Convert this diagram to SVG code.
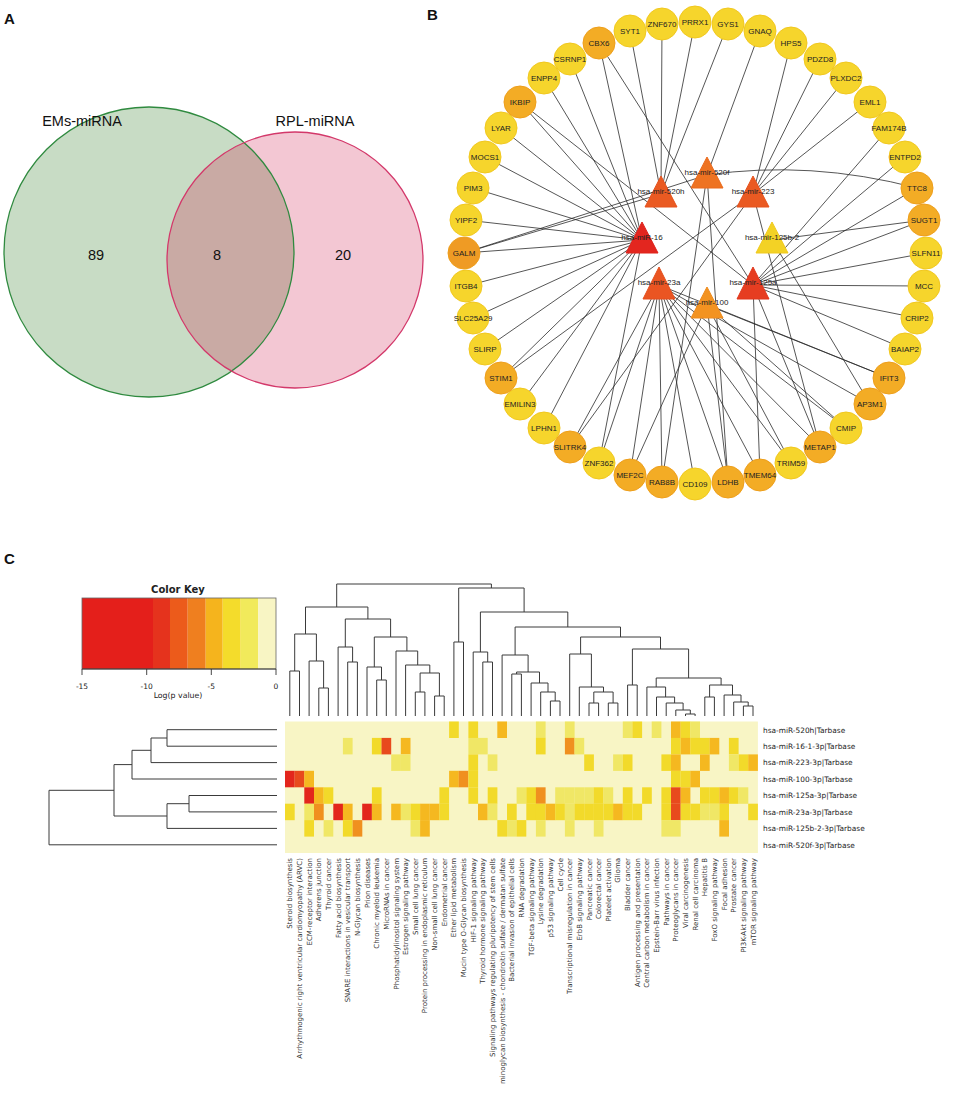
<svg xmlns="http://www.w3.org/2000/svg" width="957" height="1106" viewBox="0 0 957 1106">
<style>
.pl{font-family:"Liberation Sans",Arial,sans-serif;font-weight:bold;font-size:15px;fill:#111}
.vt{font-family:"Liberation Sans",Arial,sans-serif;font-size:14.5px;fill:#111;text-anchor:middle}
.edge{stroke:#2b2b2b;stroke-width:0.8;fill:none}
.gy{fill:#f6d52c;stroke:#f1c81f;stroke-width:1}
.go{fill:#f3ac25;stroke:#ee9f1c;stroke-width:1}
.nt{font-family:"Liberation Sans",Arial,sans-serif;font-size:8px;fill:#222;text-anchor:middle}
.mt{font-family:"Liberation Sans",Arial,sans-serif;font-size:8px;fill:#222;text-anchor:middle}
.dend{stroke:#3a3a3a;stroke-width:1;fill:none}
.hm{font-family:"DejaVu Sans",Verdana,sans-serif;fill:#222}
.cl{font-family:"DejaVu Sans",Verdana,sans-serif;font-size:7px;fill:#333;text-anchor:end}
.rl{font-family:"DejaVu Sans",Verdana,sans-serif;font-size:7.4px;fill:#222}
.R{fill:#e3261c}.OR{fill:#e84a1d}.O{fill:#f0901f}.A{fill:#f5b820}.Y{fill:#f2da2a}.P{fill:#f0e766}
</style>
<defs>
<clipPath id="gclip"><circle cx="149" cy="252" r="145"/></clipPath>
</defs>
<rect width="957" height="1106" fill="#fff"/>

<!-- Panel A -->
<text class="pl" x="4" y="24">A</text>
<g id="venn">
<circle cx="149" cy="252" r="145" fill="#c8dcc5"/>
<circle cx="295" cy="260" r="128" fill="#f3c7d3"/>
<circle cx="295" cy="260" r="128" fill="#c9aaa4" clip-path="url(#gclip)"/>
<circle cx="149" cy="252" r="145" fill="none" stroke="#2f8a3f" stroke-width="1.3"/>
<circle cx="295" cy="260" r="128" fill="none" stroke="#d3386a" stroke-width="1.3"/>
<text class="vt" x="82" y="126">EMs-miRNA</text>
<text class="vt" x="315" y="126">RPL-miRNA</text>
<text class="vt" x="96" y="260">89</text>
<text class="vt" x="217" y="260">8</text>
<text class="vt" x="343" y="260">20</text>
</g>

<!-- Panel B -->
<text class="pl" x="427" y="20">B</text>
<g id="connectors">
<line class="edge" x1="630" y1="31" x2="661" y2="194"/>
<line class="edge" x1="662" y1="24" x2="661" y2="194"/>
<line class="edge" x1="695" y1="22" x2="661" y2="194"/>
<line class="edge" x1="728" y1="24" x2="661" y2="194"/>
<line class="edge" x1="464" y1="253" x2="661" y2="194"/>
<line class="edge" x1="760" y1="31" x2="707" y2="175"/>
<line class="edge" x1="464" y1="253" x2="707" y2="175"/>
<line class="edge" x1="662" y1="482" x2="707" y2="175"/>
<line class="edge" x1="728" y1="482" x2="707" y2="175"/>
<path class="edge" d="M917,188 Q810,160 707,175"/>
<line class="edge" x1="791" y1="43" x2="753" y2="194"/>
<line class="edge" x1="820" y1="59" x2="753" y2="194"/>
<line class="edge" x1="846" y1="78" x2="753" y2="194"/>
<line class="edge" x1="870" y1="102" x2="753" y2="194"/>
<line class="edge" x1="501" y1="378" x2="753" y2="194"/>
<line class="edge" x1="570" y1="447" x2="753" y2="194"/>
<line class="edge" x1="820" y1="447" x2="753" y2="194"/>
<line class="edge" x1="599" y1="43" x2="642" y2="240"/>
<line class="edge" x1="570" y1="59" x2="642" y2="240"/>
<line class="edge" x1="544" y1="78" x2="642" y2="240"/>
<line class="edge" x1="520" y1="102" x2="642" y2="240"/>
<line class="edge" x1="501" y1="128" x2="642" y2="240"/>
<line class="edge" x1="485" y1="157" x2="642" y2="240"/>
<line class="edge" x1="473" y1="188" x2="642" y2="240"/>
<line class="edge" x1="466" y1="220" x2="642" y2="240"/>
<line class="edge" x1="464" y1="253" x2="642" y2="240"/>
<line class="edge" x1="466" y1="286" x2="642" y2="240"/>
<line class="edge" x1="473" y1="318" x2="642" y2="240"/>
<line class="edge" x1="485" y1="349" x2="642" y2="240"/>
<line class="edge" x1="501" y1="378" x2="642" y2="240"/>
<line class="edge" x1="520" y1="404" x2="642" y2="240"/>
<line class="edge" x1="544" y1="428" x2="642" y2="240"/>
<line class="edge" x1="599" y1="463" x2="642" y2="240"/>
<line class="edge" x1="924" y1="220" x2="772" y2="240"/>
<line class="edge" x1="870" y1="404" x2="772" y2="240"/>
<line class="edge" x1="599" y1="43" x2="753" y2="285"/>
<line class="edge" x1="520" y1="102" x2="753" y2="285"/>
<line class="edge" x1="889" y1="128" x2="753" y2="285"/>
<line class="edge" x1="905" y1="157" x2="753" y2="285"/>
<line class="edge" x1="917" y1="188" x2="753" y2="285"/>
<line class="edge" x1="924" y1="220" x2="753" y2="285"/>
<line class="edge" x1="926" y1="253" x2="753" y2="285"/>
<line class="edge" x1="924" y1="286" x2="753" y2="285"/>
<line class="edge" x1="917" y1="318" x2="753" y2="285"/>
<line class="edge" x1="905" y1="349" x2="753" y2="285"/>
<line class="edge" x1="760" y1="475" x2="753" y2="285"/>
<line class="edge" x1="820" y1="447" x2="753" y2="285"/>
<line class="edge" x1="570" y1="447" x2="659" y2="285"/>
<line class="edge" x1="599" y1="463" x2="659" y2="285"/>
<line class="edge" x1="630" y1="475" x2="659" y2="285"/>
<line class="edge" x1="662" y1="482" x2="659" y2="285"/>
<line class="edge" x1="695" y1="484" x2="659" y2="285"/>
<line class="edge" x1="728" y1="482" x2="659" y2="285"/>
<line class="edge" x1="760" y1="475" x2="659" y2="285"/>
<line class="edge" x1="791" y1="463" x2="659" y2="285"/>
<line class="edge" x1="820" y1="447" x2="659" y2="285"/>
<line class="edge" x1="846" y1="428" x2="659" y2="285"/>
<line class="edge" x1="870" y1="404" x2="659" y2="285"/>
<line class="edge" x1="889" y1="378" x2="659" y2="285"/>
<line class="edge" x1="630" y1="475" x2="707" y2="305"/>
<line class="edge" x1="728" y1="482" x2="707" y2="305"/>
<line class="edge" x1="791" y1="463" x2="707" y2="305"/>
<line class="edge" x1="846" y1="428" x2="707" y2="305"/>
<line class="edge" x1="889" y1="378" x2="707" y2="305"/>
</g>

<g id="genes">
<g id="n-SLFN11"><circle class="gy" cx="926" cy="253" r="16"/><text class="nt" x="926" y="256">SLFN11</text></g>
<g id="n-MCC"><circle class="gy" cx="924" cy="286" r="16"/><text class="nt" x="924" y="289">MCC</text></g>
<g id="n-CRIP2"><circle class="gy" cx="917" cy="318" r="16"/><text class="nt" x="917" y="321">CRIP2</text></g>
<g id="n-BAIAP2"><circle class="gy" cx="905" cy="349" r="16"/><text class="nt" x="905" y="352">BAIAP2</text></g>
<g id="n-IFIT3"><circle class="go" cx="889" cy="378" r="16"/><text class="nt" x="889" y="381">IFIT3</text></g>
<g id="n-AP3M1"><circle class="go" cx="870" cy="404" r="16"/><text class="nt" x="870" y="407">AP3M1</text></g>
<g id="n-CMIP"><circle class="gy" cx="846" cy="428" r="16"/><text class="nt" x="846" y="431">CMIP</text></g>
<g id="n-METAP1"><circle class="go" cx="820" cy="447" r="16"/><text class="nt" x="820" y="450">METAP1</text></g>
<g id="n-TRIM59"><circle class="gy" cx="791" cy="463" r="16"/><text class="nt" x="791" y="466">TRIM59</text></g>
<g id="n-TMEM64"><circle class="go" cx="760" cy="475" r="16"/><text class="nt" x="760" y="478">TMEM64</text></g>
<g id="n-LDHB"><circle class="go" cx="728" cy="482" r="16"/><text class="nt" x="728" y="485">LDHB</text></g>
<g id="n-CD109"><circle class="gy" cx="695" cy="484" r="16"/><text class="nt" x="695" y="487">CD109</text></g>
<g id="n-RAB8B"><circle class="go" cx="662" cy="482" r="16"/><text class="nt" x="662" y="485">RAB8B</text></g>
<g id="n-MEF2C"><circle class="go" cx="630" cy="475" r="16"/><text class="nt" x="630" y="478">MEF2C</text></g>
<g id="n-ZNF362"><circle class="gy" cx="599" cy="463" r="16"/><text class="nt" x="599" y="466">ZNF362</text></g>
<g id="n-SLITRK4"><circle class="go" cx="570" cy="447" r="16"/><text class="nt" x="570" y="450">SLITRK4</text></g>
<g id="n-LPHN1"><circle class="gy" cx="544" cy="428" r="16"/><text class="nt" x="544" y="431">LPHN1</text></g>
<g id="n-EMILIN3"><circle class="gy" cx="520" cy="404" r="16"/><text class="nt" x="520" y="407">EMILIN3</text></g>
<g id="n-STIM1"><circle class="go" cx="501" cy="378" r="16"/><text class="nt" x="501" y="381">STIM1</text></g>
<g id="n-SLIRP"><circle class="gy" cx="485" cy="349" r="16"/><text class="nt" x="485" y="352">SLIRP</text></g>
<g id="n-SLC25A29"><circle class="gy" cx="473" cy="318" r="16"/><text class="nt" x="473" y="321">SLC25A29</text></g>
<g id="n-ITGB4"><circle class="gy" cx="466" cy="286" r="16"/><text class="nt" x="466" y="289">ITGB4</text></g>
<g id="n-GALM"><circle class="go" cx="464" cy="253" r="16" style="fill:#ef9b24"/><text class="nt" x="464" y="256">GALM</text></g>
<g id="n-YIPF2"><circle class="gy" cx="466" cy="220" r="16"/><text class="nt" x="466" y="223">YIPF2</text></g>
<g id="n-PIM3"><circle class="gy" cx="473" cy="188" r="16"/><text class="nt" x="473" y="191">PIM3</text></g>
<g id="n-MOCS1"><circle class="gy" cx="485" cy="157" r="16"/><text class="nt" x="485" y="160">MOCS1</text></g>
<g id="n-LYAR"><circle class="gy" cx="501" cy="128" r="16"/><text class="nt" x="501" y="131">LYAR</text></g>
<g id="n-IKBIP"><circle class="go" cx="520" cy="102" r="16"/><text class="nt" x="520" y="105">IKBIP</text></g>
<g id="n-ENPP4"><circle class="gy" cx="544" cy="78" r="16"/><text class="nt" x="544" y="81">ENPP4</text></g>
<g id="n-CSRNP1"><circle class="gy" cx="570" cy="59" r="16"/><text class="nt" x="570" y="62">CSRNP1</text></g>
<g id="n-CBX6"><circle class="go" cx="599" cy="43" r="16"/><text class="nt" x="599" y="46">CBX6</text></g>
<g id="n-SYT1"><circle class="gy" cx="630" cy="31" r="16"/><text class="nt" x="630" y="34">SYT1</text></g>
<g id="n-ZNF670"><circle class="gy" cx="662" cy="24" r="16"/><text class="nt" x="662" y="27">ZNF670</text></g>
<g id="n-PRRX1"><circle class="gy" cx="695" cy="22" r="16"/><text class="nt" x="695" y="25">PRRX1</text></g>
<g id="n-GYS1"><circle class="gy" cx="728" cy="24" r="16"/><text class="nt" x="728" y="27">GYS1</text></g>
<g id="n-GNAQ"><circle class="gy" cx="760" cy="31" r="16"/><text class="nt" x="760" y="34">GNAQ</text></g>
<g id="n-HPS5"><circle class="gy" cx="791" cy="43" r="16"/><text class="nt" x="791" y="46">HPS5</text></g>
<g id="n-PDZD8"><circle class="gy" cx="820" cy="59" r="16"/><text class="nt" x="820" y="62">PDZD8</text></g>
<g id="n-PLXDC2"><circle class="gy" cx="846" cy="78" r="16"/><text class="nt" x="846" y="81">PLXDC2</text></g>
<g id="n-EML1"><circle class="gy" cx="870" cy="102" r="16"/><text class="nt" x="870" y="105">EML1</text></g>
<g id="n-FAM174B"><circle class="gy" cx="889" cy="128" r="16"/><text class="nt" x="889" y="131">FAM174B</text></g>
<g id="n-ENTPD2"><circle class="gy" cx="905" cy="157" r="16"/><text class="nt" x="905" y="160">ENTPD2</text></g>
<g id="n-TTC8"><circle class="go" cx="917" cy="188" r="16"/><text class="nt" x="917" y="191">TTC8</text></g>
<g id="n-SUGT1"><circle class="go" cx="924" cy="220" r="16"/><text class="nt" x="924" y="223">SUGT1</text></g>
</g>

<g id="mirnas">
<g id="m-520f"><polygon points="707,157 691,188 723,188" fill="#ee7322" stroke="#ea6a1d"/><text class="mt" x="707" y="175">hsa-mir-520f</text></g>
<g id="m-520h"><polygon points="661,176 645,207 677,207" fill="#ea5a22" stroke="#e6521d"/><text class="mt" x="661" y="194">hsa-mir-520h</text></g>
<g id="m-223"><polygon points="753,176 737,207 769,207" fill="#ea5a22" stroke="#e6521d"/><text class="mt" x="753" y="194">hsa-mir-223</text></g>
<g id="m-16"><polygon points="642,222 626,253 658,253" fill="#e3261f" stroke="#de221b"/><text class="mt" x="642" y="240">hsa-miR-16</text></g>
<g id="m-125b2"><polygon points="772,222 756,253 788,253" fill="#f3d225" stroke="#efc91e"/><text class="mt" x="772" y="240">hsa-mir-125b-2</text></g>
<g id="m-23a"><polygon points="659,267 643,299 675,299" fill="#ea5522" stroke="#e54f1d"/><text class="mt" x="659" y="285">hsa-mir-23a</text></g>
<g id="m-125a"><polygon points="753,267 737,299 769,299" fill="#e63d21" stroke="#e0371c"/><text class="mt" x="753" y="285">hsa-mir-125a</text></g>
<g id="m-100"><polygon points="707,287 691,318 723,318" fill="#f39321" stroke="#ee8a1c"/><text class="mt" x="707" y="305">hsa-mir-100</text></g>
</g>

<!-- Panel C -->
<text class="pl" x="4" y="564">C</text>
<g id="colorkey">
<text class="hm" x="178" y="593" font-size="10" font-weight="bold" text-anchor="middle">Color Key</text>
<rect x="82" y="598" width="71" height="71" fill="#e41f1b"/>
<rect x="153" y="598" width="17" height="71" fill="#e5331d"/>
<rect x="170" y="598" width="17.7" height="71" fill="#ec5b1b"/>
<rect x="187.7" y="598" width="18" height="71" fill="#ef7f1f"/>
<rect x="205.7" y="598" width="17" height="71" fill="#f5b41d"/>
<rect x="222.7" y="598" width="18" height="71" fill="#f4dc2b"/>
<rect x="240.7" y="598" width="17.6" height="71" fill="#f1ea5b"/>
<rect x="258.3" y="598" width="17.7" height="71" fill="#f8f5c4"/>
<rect x="82" y="598" width="194" height="71" fill="none" stroke="#666" stroke-width="0.8"/>
<path d="M82 669H276M82 669V675M146.7 669V675M211.3 669V675M276 669V675" stroke="#333" stroke-width="0.9" fill="none"/>
<text class="hm" font-size="7.5" text-anchor="middle" x="82" y="689">-15</text>
<text class="hm" font-size="7.5" text-anchor="middle" x="146.7" y="689">-10</text>
<text class="hm" font-size="7.5" text-anchor="middle" x="211.3" y="689">-5</text>
<text class="hm" font-size="7.5" text-anchor="middle" x="276" y="689">0</text>
<text class="hm" font-size="7.8" text-anchor="middle" x="178" y="698">Log(p value)</text>
</g>

<g id="coldend">
<path class="dend" d="M289.8 716V671H299.5V716M318.8 716V688H328.4V716M309.1 716V661H323.6V688M294.7 671V634H316.4V661M347.7 716V662H357.4V716M338.1 716V647H352.6V662M376.7 716V680H386.3V716M367 716V667H381.5V680M415.3 716V692H424.9V716M434.6 716V696H444.2V716M420.1 692V673H439.4V696M405.6 716V665H429.8V673M396 716V651H417.7V665M374.3 667V637H406.9V651M345.3 647V619H390.6V637M305.5 634V607H367.9V619M453.9 716V642H463.5V716M482.8 716V662H492.5V716M473.2 716V652H487.7V662M550.4 716V701H560V716M540.7 716V692H555.2V701M531.1 716V683H548V692M511.8 716V674H521.4V716M516.6 674V672H539.5V683M502.1 716V655H528.1V672M589 716V703H598.6V716M608.3 716V703H617.9V716M593.8 703V692H613.1V703M579.3 716V687H603.5V692M569.7 716V654H591.4V687M627.6 716V685H637.2V716M685.5 716V714H695.1V716M675.8 716V710H690.3V714M666.2 716V703H683.1V710M656.5 716V697H674.6V703M646.9 716V687H665.6V697M704.8 716V697H714.4V716M743.4 716V706H753V716M733.7 716V702H748.2V706M724.1 716V695H741V702M709.6 697V685H732.5V695M656.2 687V678H721.1V685M632.4 685V649H688.6V678M580.6 654V637H660.5V649M515.1 655V627H620.5V637M480.4 652V612H567.8V627M458.7 642V588H524.1V612M336.7 607V584H491.4V588"/>
</g>
<g id="rowdend">
<path class="dend" d="M277 729.7H167V746.2H277M167 738H151V762.6H277M151 750.3H132V779H277M277 795.5H189V811.9H277M189 803.7H167V828.4H277M132 764.6H114V816H167M114 790.3H49V844.8H277"/>
</g>

<g id="heatmap">
<rect x="285" y="721.5" width="472.9" height="131.5" fill="#f8f5c5"/>
<g>
<rect class="Y" x="449.1" y="721.5" width="9.7" height="16.5"/>
<rect class="Y" x="468.4" y="721.5" width="9.7" height="16.5"/>
<rect class="A" x="497.3" y="721.5" width="9.7" height="16.5"/>
<rect class="P" x="535.9" y="721.5" width="9.7" height="16.5"/>
<rect class="P" x="564.9" y="721.5" width="9.7" height="16.5"/>
<rect class="P" x="622.8" y="721.5" width="9.7" height="16.5"/>
<rect class="Y" x="632.4" y="721.5" width="9.7" height="16.5"/>
<rect class="P" x="651.7" y="721.5" width="9.7" height="16.5"/>
<rect class="A" x="671.0" y="721.5" width="9.7" height="16.5"/>
<rect class="Y" x="680.7" y="721.5" width="9.7" height="16.5"/>
<rect class="P" x="690.3" y="721.5" width="9.7" height="16.5"/>
</g>
<g>
<rect class="P" x="342.9" y="737.9" width="9.7" height="16.5"/>
<rect class="Y" x="371.9" y="737.9" width="9.7" height="16.5"/>
<rect class="OR" x="381.5" y="737.9" width="9.7" height="16.5"/>
<rect class="A" x="400.8" y="737.9" width="9.7" height="16.5"/>
<rect class="P" x="468.4" y="737.9" width="9.7" height="16.5"/>
<rect class="P" x="478.0" y="737.9" width="9.7" height="16.5"/>
<rect class="Y" x="535.9" y="737.9" width="9.7" height="16.5"/>
<rect class="O" x="564.9" y="737.9" width="9.7" height="16.5"/>
<rect class="P" x="574.5" y="737.9" width="9.7" height="16.5"/>
<rect class="Y" x="671.0" y="737.9" width="9.7" height="16.5"/>
<rect class="A" x="680.7" y="737.9" width="9.7" height="16.5"/>
<rect class="Y" x="690.3" y="737.9" width="9.7" height="16.5"/>
<rect class="Y" x="700.0" y="737.9" width="9.7" height="16.5"/>
<rect class="A" x="709.6" y="737.9" width="9.7" height="16.5"/>
<rect class="Y" x="728.9" y="737.9" width="9.7" height="16.5"/>
</g>
<g>
<rect class="P" x="391.2" y="754.4" width="9.7" height="16.5"/>
<rect class="P" x="400.8" y="754.4" width="9.7" height="16.5"/>
<rect class="Y" x="468.4" y="754.4" width="9.7" height="16.5"/>
<rect class="P" x="487.7" y="754.4" width="9.7" height="16.5"/>
<rect class="Y" x="584.2" y="754.4" width="9.7" height="16.5"/>
<rect class="P" x="613.1" y="754.4" width="9.7" height="16.5"/>
<rect class="Y" x="622.8" y="754.4" width="9.7" height="16.5"/>
<rect class="Y" x="661.4" y="754.4" width="9.7" height="16.5"/>
<rect class="A" x="671.0" y="754.4" width="9.7" height="16.5"/>
<rect class="A" x="700.0" y="754.4" width="9.7" height="16.5"/>
<rect class="P" x="728.9" y="754.4" width="9.7" height="16.5"/>
<rect class="Y" x="738.6" y="754.4" width="9.7" height="16.5"/>
<rect class="A" x="748.2" y="754.4" width="9.7" height="16.5"/>
</g>
<g>
<rect class="R" x="285.0" y="770.8" width="9.7" height="16.5"/>
<rect class="OR" x="294.7" y="770.8" width="9.7" height="16.5"/>
<rect class="A" x="304.3" y="770.8" width="9.7" height="16.5"/>
<rect class="A" x="449.1" y="770.8" width="9.7" height="16.5"/>
<rect class="O" x="458.7" y="770.8" width="9.7" height="16.5"/>
<rect class="Y" x="468.4" y="770.8" width="9.7" height="16.5"/>
<rect class="Y" x="671.0" y="770.8" width="9.7" height="16.5"/>
<rect class="Y" x="680.7" y="770.8" width="9.7" height="16.5"/>
<rect class="A" x="690.3" y="770.8" width="9.7" height="16.5"/>
</g>
<g>
<rect class="R" x="304.3" y="787.3" width="9.7" height="16.5"/>
<rect class="A" x="314.0" y="787.3" width="9.7" height="16.5"/>
<rect class="Y" x="323.6" y="787.3" width="9.7" height="16.5"/>
<rect class="Y" x="371.9" y="787.3" width="9.7" height="16.5"/>
<rect class="Y" x="439.4" y="787.3" width="9.7" height="16.5"/>
<rect class="Y" x="468.4" y="787.3" width="9.7" height="16.5"/>
<rect class="Y" x="487.7" y="787.3" width="9.7" height="16.5"/>
<rect class="P" x="516.6" y="787.3" width="9.7" height="16.5"/>
<rect class="Y" x="526.3" y="787.3" width="9.7" height="16.5"/>
<rect class="O" x="535.9" y="787.3" width="9.7" height="16.5"/>
<rect class="P" x="555.2" y="787.3" width="9.7" height="16.5"/>
<rect class="P" x="564.9" y="787.3" width="9.7" height="16.5"/>
<rect class="P" x="574.5" y="787.3" width="9.7" height="16.5"/>
<rect class="P" x="584.2" y="787.3" width="9.7" height="16.5"/>
<rect class="Y" x="593.8" y="787.3" width="9.7" height="16.5"/>
<rect class="P" x="603.5" y="787.3" width="9.7" height="16.5"/>
<rect class="Y" x="622.8" y="787.3" width="9.7" height="16.5"/>
<rect class="Y" x="642.1" y="787.3" width="9.7" height="16.5"/>
<rect class="Y" x="661.4" y="787.3" width="9.7" height="16.5"/>
<rect class="OR" x="671.0" y="787.3" width="9.7" height="16.5"/>
<rect class="A" x="680.7" y="787.3" width="9.7" height="16.5"/>
<rect class="Y" x="700.0" y="787.3" width="9.7" height="16.5"/>
<rect class="Y" x="709.6" y="787.3" width="9.7" height="16.5"/>
<rect class="A" x="719.3" y="787.3" width="9.7" height="16.5"/>
<rect class="Y" x="728.9" y="787.3" width="9.7" height="16.5"/>
<rect class="P" x="738.6" y="787.3" width="9.7" height="16.5"/>
</g>
<g>
<rect class="Y" x="285.0" y="803.7" width="9.7" height="16.5"/>
<rect class="P" x="304.3" y="803.7" width="9.7" height="16.5"/>
<rect class="O" x="314.0" y="803.7" width="9.7" height="16.5"/>
<rect class="R" x="333.3" y="803.7" width="9.7" height="16.5"/>
<rect class="A" x="342.9" y="803.7" width="9.7" height="16.5"/>
<rect class="R" x="362.2" y="803.7" width="9.7" height="16.5"/>
<rect class="A" x="371.9" y="803.7" width="9.7" height="16.5"/>
<rect class="A" x="391.2" y="803.7" width="9.7" height="16.5"/>
<rect class="P" x="400.8" y="803.7" width="9.7" height="16.5"/>
<rect class="Y" x="410.5" y="803.7" width="9.7" height="16.5"/>
<rect class="A" x="420.1" y="803.7" width="9.7" height="16.5"/>
<rect class="A" x="429.8" y="803.7" width="9.7" height="16.5"/>
<rect class="Y" x="439.4" y="803.7" width="9.7" height="16.5"/>
<rect class="A" x="478.0" y="803.7" width="9.7" height="16.5"/>
<rect class="P" x="487.7" y="803.7" width="9.7" height="16.5"/>
<rect class="Y" x="507.0" y="803.7" width="9.7" height="16.5"/>
<rect class="Y" x="526.3" y="803.7" width="9.7" height="16.5"/>
<rect class="Y" x="535.9" y="803.7" width="9.7" height="16.5"/>
<rect class="A" x="545.6" y="803.7" width="9.7" height="16.5"/>
<rect class="Y" x="555.2" y="803.7" width="9.7" height="16.5"/>
<rect class="P" x="564.9" y="803.7" width="9.7" height="16.5"/>
<rect class="Y" x="574.5" y="803.7" width="9.7" height="16.5"/>
<rect class="Y" x="584.2" y="803.7" width="9.7" height="16.5"/>
<rect class="Y" x="593.8" y="803.7" width="9.7" height="16.5"/>
<rect class="Y" x="603.5" y="803.7" width="9.7" height="16.5"/>
<rect class="A" x="613.1" y="803.7" width="9.7" height="16.5"/>
<rect class="Y" x="622.8" y="803.7" width="9.7" height="16.5"/>
<rect class="Y" x="632.4" y="803.7" width="9.7" height="16.5"/>
<rect class="Y" x="661.4" y="803.7" width="9.7" height="16.5"/>
<rect class="OR" x="671.0" y="803.7" width="9.7" height="16.5"/>
<rect class="Y" x="680.7" y="803.7" width="9.7" height="16.5"/>
<rect class="Y" x="690.3" y="803.7" width="9.7" height="16.5"/>
<rect class="P" x="700.0" y="803.7" width="9.7" height="16.5"/>
<rect class="P" x="709.6" y="803.7" width="9.7" height="16.5"/>
<rect class="Y" x="719.3" y="803.7" width="9.7" height="16.5"/>
<rect class="Y" x="748.2" y="803.7" width="9.7" height="16.5"/>
</g>
<g>
<rect class="Y" x="304.3" y="820.1" width="9.7" height="16.5"/>
<rect class="P" x="323.6" y="820.1" width="9.7" height="16.5"/>
<rect class="Y" x="342.9" y="820.1" width="9.7" height="16.5"/>
<rect class="O" x="352.6" y="820.1" width="9.7" height="16.5"/>
<rect class="P" x="410.5" y="820.1" width="9.7" height="16.5"/>
<rect class="A" x="420.1" y="820.1" width="9.7" height="16.5"/>
<rect class="Y" x="497.3" y="820.1" width="9.7" height="16.5"/>
<rect class="P" x="507.0" y="820.1" width="9.7" height="16.5"/>
<rect class="Y" x="516.6" y="820.1" width="9.7" height="16.5"/>
<rect class="P" x="535.9" y="820.1" width="9.7" height="16.5"/>
<rect class="P" x="564.9" y="820.1" width="9.7" height="16.5"/>
<rect class="P" x="593.8" y="820.1" width="9.7" height="16.5"/>
<rect class="P" x="661.4" y="820.1" width="9.7" height="16.5"/>
<rect class="P" x="671.0" y="820.1" width="9.7" height="16.5"/>
<rect class="A" x="719.3" y="820.1" width="9.7" height="16.5"/>
</g>
</g>

<g id="rowlabels">
<text class="rl" x="763" y="732.5">hsa-miR-520h|Tarbase</text>
<text class="rl" x="763" y="749">hsa-miR-16-1-3p|Tarbase</text>
<text class="rl" x="763" y="765.4">hsa-miR-223-3p|Tarbase</text>
<text class="rl" x="763" y="781.8">hsa-miR-100-3p|Tarbase</text>
<text class="rl" x="763" y="798.3">hsa-miR-125a-3p|Tarbase</text>
<text class="rl" x="763" y="814.7">hsa-miR-23a-3p|Tarbase</text>
<text class="rl" x="763" y="831.2">hsa-miR-125b-2-3p|Tarbase</text>
<text class="rl" x="763" y="847.6">hsa-miR-520f-3p|Tarbase</text>
</g>

<g id="collabels">
<text class="cl" transform="translate(292.3,858) rotate(-90)">Steroid biosynthesis</text>
<text class="cl" transform="translate(302,858) rotate(-90)">Arrhythmogenic right ventricular cardiomyopathy (ARVC)</text>
<text class="cl" transform="translate(311.6,858) rotate(-90)">ECM-receptor interaction</text>
<text class="cl" transform="translate(321.3,858) rotate(-90)">Adherens junction</text>
<text class="cl" transform="translate(330.9,858) rotate(-90)">Thyroid cancer</text>
<text class="cl" transform="translate(340.6,858) rotate(-90)">Fatty acid biosynthesis</text>
<text class="cl" transform="translate(350.2,858) rotate(-90)">SNARE interactions in vesicular transport</text>
<text class="cl" transform="translate(359.9,858) rotate(-90)">N-Glycan biosynthesis</text>
<text class="cl" transform="translate(369.5,858) rotate(-90)">Prion diseases</text>
<text class="cl" transform="translate(379.2,858) rotate(-90)">Chronic myeloid leukemia</text>
<text class="cl" transform="translate(388.8,858) rotate(-90)">MicroRNAs in cancer</text>
<text class="cl" transform="translate(398.5,858) rotate(-90)">Phosphatidylinositol signaling system</text>
<text class="cl" transform="translate(408.1,858) rotate(-90)">Estrogen signaling pathway</text>
<text class="cl" transform="translate(417.8,858) rotate(-90)">Small cell lung cancer</text>
<text class="cl" transform="translate(427.4,858) rotate(-90)">Protein processing in endoplasmic reticulum</text>
<text class="cl" transform="translate(437.1,858) rotate(-90)">Non-small cell lung cancer</text>
<text class="cl" transform="translate(446.7,858) rotate(-90)">Endometrial cancer</text>
<text class="cl" transform="translate(456.4,858) rotate(-90)">Ether lipid metabolism</text>
<text class="cl" transform="translate(466,858) rotate(-90)">Mucin type O-Glycan biosynthesis</text>
<text class="cl" transform="translate(475.7,858) rotate(-90)">HIF-1 signaling pathway</text>
<text class="cl" transform="translate(485.3,858) rotate(-90)">Thyroid hormone signaling pathway</text>
<text class="cl" transform="translate(495,858) rotate(-90)">Signaling pathways regulating pluripotency of stem cells</text>
<text class="cl" transform="translate(504.6,858) rotate(-90)">minoglycan biosynthesis - chondroitin sulfate / dermatan sulfate</text>
<text class="cl" transform="translate(514.3,858) rotate(-90)">Bacterial invasion of epithelial cells</text>
<text class="cl" transform="translate(523.9,858) rotate(-90)">RNA degradation</text>
<text class="cl" transform="translate(533.6,858) rotate(-90)">TGF-beta signaling pathway</text>
<text class="cl" transform="translate(543.2,858) rotate(-90)">Lysine degradation</text>
<text class="cl" transform="translate(552.9,858) rotate(-90)">p53 signaling pathway</text>
<text class="cl" transform="translate(562.5,858) rotate(-90)">Cell cycle</text>
<text class="cl" transform="translate(572.2,858) rotate(-90)">Transcriptional misregulation in cancer</text>
<text class="cl" transform="translate(581.8,858) rotate(-90)">ErbB signaling pathway</text>
<text class="cl" transform="translate(591.5,858) rotate(-90)">Pancreatic cancer</text>
<text class="cl" transform="translate(601.1,858) rotate(-90)">Colorectal cancer</text>
<text class="cl" transform="translate(610.8,858) rotate(-90)">Platelet activation</text>
<text class="cl" transform="translate(620.4,858) rotate(-90)">Glioma</text>
<text class="cl" transform="translate(630.1,858) rotate(-90)">Bladder cancer</text>
<text class="cl" transform="translate(639.7,858) rotate(-90)">Antigen processing and presentation</text>
<text class="cl" transform="translate(649.4,858) rotate(-90)">Central carbon metabolism in cancer</text>
<text class="cl" transform="translate(659,858) rotate(-90)">Epstein-Barr virus infection</text>
<text class="cl" transform="translate(668.7,858) rotate(-90)">Pathways in cancer</text>
<text class="cl" transform="translate(678.3,858) rotate(-90)">Proteoglycans in cancer</text>
<text class="cl" transform="translate(688,858) rotate(-90)">Viral carcinogenesis</text>
<text class="cl" transform="translate(697.6,858) rotate(-90)">Renal cell carcinoma</text>
<text class="cl" transform="translate(707.3,858) rotate(-90)">Hepatitis B</text>
<text class="cl" transform="translate(716.9,858) rotate(-90)">FoxO signaling pathway</text>
<text class="cl" transform="translate(726.6,858) rotate(-90)">Focal adhesion</text>
<text class="cl" transform="translate(736.2,858) rotate(-90)">Prostate cancer</text>
<text class="cl" transform="translate(745.9,858) rotate(-90)">PI3K-Akt signaling pathway</text>
<text class="cl" transform="translate(755.5,858) rotate(-90)">mTOR signaling pathway</text>
</g>
</svg>
